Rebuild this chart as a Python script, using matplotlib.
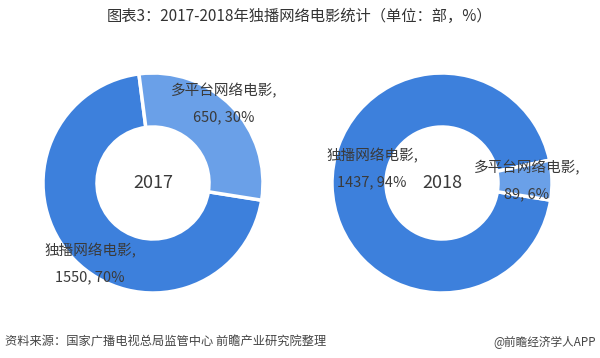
import matplotlib
matplotlib.use("Agg")
import matplotlib.pyplot as plt

plt.rcParams['font.family'] = ['Noto Sans CJK SC', 'DejaVu Sans']

# data
years = ['2017', '2018']
categories = ['独播网络电影', '多平台网络电影']
counts_2017 = [1550, 650]
pcts_2017 = [70, 30]
counts_2018 = [1437, 89]
pcts_2018 = [94, 6]

colors = ['#3d80dc', '#6aa0e8']
text_color = '#3a3a3a'

W, H = 600, 358
fig = plt.figure(figsize=(6, 3.58), dpi=100)
ax = fig.add_axes([0, 0, 1, 1])


def yy(y):
    # image-style y (from top) to axes y
    return H - y


def donut(center, counts, year):
    ax.pie(counts, colors=colors, startangle=-9, counterclock=False,
           radius=110, center=center,
           wedgeprops=dict(width=54, edgecolor='white', linewidth=2.5))
    ax.text(center[0], center[1], year, ha='center', va='center',
            fontsize=13, color=text_color)


c_left = (153, yy(183))
c_right = (442, yy(183))
donut(c_left, counts_2017, years[0])
donut(c_right, counts_2018, years[1])

# labels (name line + value line)
def label(x, y, cat, n, p):
    ax.text(x, yy(y), cat + ',', ha='center', va='center',
            fontsize=10.5, color=text_color)
    ax.text(x, yy(y + 26), '{}, {}%'.format(n, p), ha='center', va='center',
            fontsize=10.5, color=text_color)

label(224, 91, categories[1], counts_2017[1], pcts_2017[1])
label(90, 251, categories[0], counts_2017[0], pcts_2017[0])
label(372, 156, categories[0], counts_2018[0], pcts_2018[0])
label(527, 168, categories[1], counts_2018[1], pcts_2018[1])

ax.set_xlim(0, W)
ax.set_ylim(0, H)
ax.set_aspect('equal')
ax.axis('off')

fig.text(0.5, 1 - 16 / H, '图表3：2017-2018年独播网络电影统计（单位：部，%）',
         ha='center', va='center', fontsize=11, color='#333333')
fig.text(5 / W, 1 - 342 / H, '资料来源：国家广播电视总局监管中心 前瞻产业研究院整理',
         ha='left', va='center', fontsize=8.8, color='#444444')
fig.text(596 / W, 1 - 342 / H, '@前瞻经济学人APP',
         ha='right', va='center', fontsize=8.4, color='#444444')

fig.savefig('out.png', dpi=100, facecolor='white')
